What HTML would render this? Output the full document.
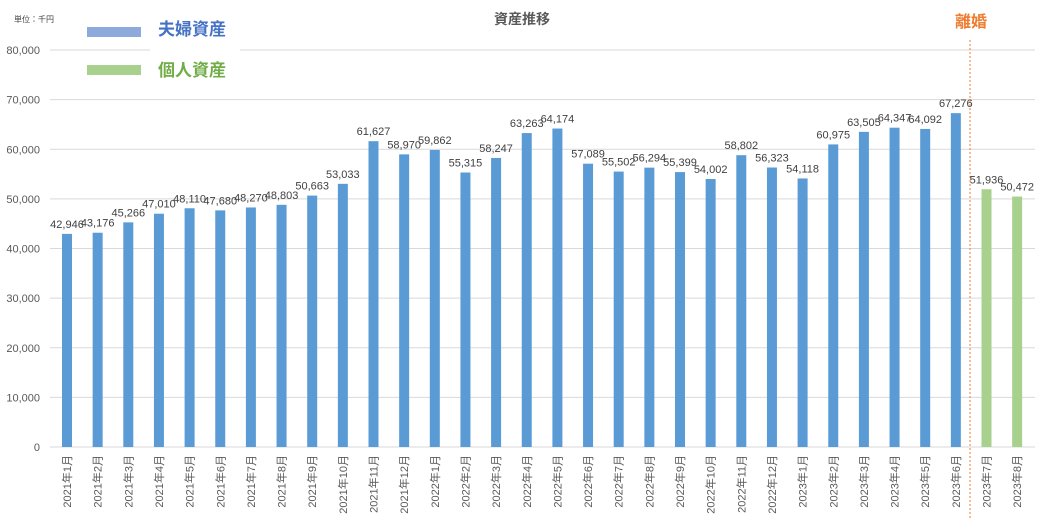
<!DOCTYPE html>
<html><head><meta charset="utf-8"><style>
html,body{margin:0;padding:0;background:#fff;}
svg{display:block;font-family:"Liberation Sans","Noto Sans CJK JP",sans-serif;}
</style></head><body>
<svg id="c" width="1043" height="518" viewBox="0 0 1043 518" xmlns="http://www.w3.org/2000/svg"></svg>
<script>
var vals=[42946,43176,45266,47010,48110,47680,48270,48803,50663,53033,61627,58970,59862,55315,58247,63263,64174,57089,55502,56294,55399,54002,58802,56323,54118,60975,63505,64347,64092,67276,51936,50472];
var s='';
function Y(v){return 447-v*397/80000;}
for(var g=0;g<=8;g++){var y=Y(g*10000);
 s+='<line x1="50" x2="1035" y1="'+y+'" y2="'+y+'" stroke="#d9d9d9" stroke-width="1"/>';
 s+='<text x="40" y="'+(y+4)+'" font-size="11" fill="#595959" text-anchor="end">'+(g==0?'0':(g*10)+',000')+'</text>';}
for(var i=0;i<32;i++){var cx=67+i*30.65,v=vals[i],y=Y(v);
 var col=i<30?'#5B9BD5':'#A9D18E';
 s+='<rect x="'+(cx-5)+'" y="'+y+'" width="10" height="'+(447-y)+'" fill="'+col+'"/>';
 s+='<text x="'+cx+'" y="'+(y-6)+'" font-size="11" fill="#404040" text-anchor="middle">'+v.toLocaleString('en-US')+'</text>';
 var yr=2021+Math.floor(i/12),m=i%12+1;
 s+='<text transform="translate('+(cx+4)+',455) rotate(-90)" font-size="11" fill="#595959" text-anchor="end">'+yr+'年'+m+'月</text>';}
s+='<line x1="970" x2="970" y1="40" y2="518" stroke="#ED7D31" stroke-width="1" stroke-dasharray="2,2"/>';
s+='<rect x="150" y="40" width="90" height="40" fill="#fff"/>';
s+='<text x="14" y="22" font-size="8" fill="#404040">単位：千円</text>';
s+='<rect x="87" y="27" width="54" height="10" fill="#8EA9DB"/>';
s+='<text x="158" y="35" font-size="17" font-weight="bold" fill="#4472C4">夫婦資産</text>';
s+='<rect x="87" y="65" width="54" height="10" fill="#A9D18E"/>';
s+='<text x="158" y="76" font-size="17" font-weight="bold" fill="#70AD47">個人資産</text>';
s+='<text x="522" y="24" font-size="14" font-weight="bold" fill="#595959" text-anchor="middle">資産推移</text>';
s+='<text x="971" y="27" font-size="16" font-weight="bold" fill="#ED7D31" text-anchor="middle">離婚</text>';
document.getElementById('c').innerHTML=s;
</script>
</body></html>
